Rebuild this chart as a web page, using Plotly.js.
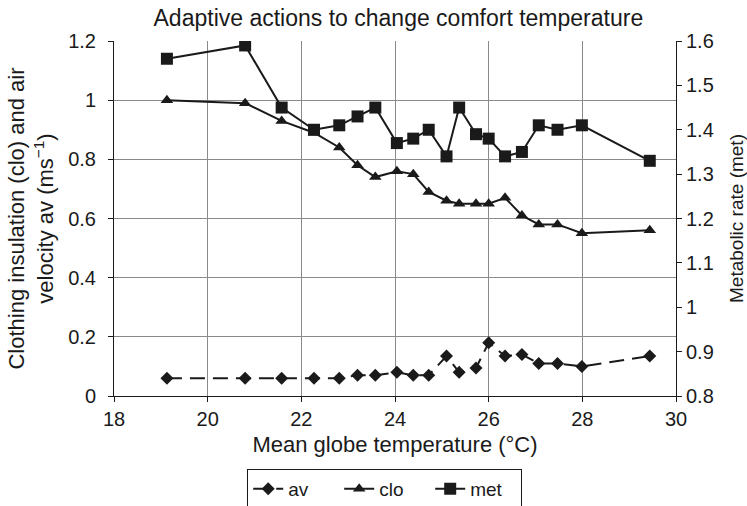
<!DOCTYPE html>
<html>
<head>
<meta charset="utf-8">
<script src="https://cdn.plot.ly/plotly-3.0.1.min.js"></script>
<style>
html,body{margin:0;padding:0;background:#fff;}
#chart{width:747px;height:506px;}
</style>
</head>
<body>
<div id="chart"></div>
<script>
// Mean globe temperature (°C)
var temp = [19.13, 20.8, 21.58, 22.27, 22.81, 23.2, 23.58, 24.04, 24.39, 24.72, 25.1, 25.37, 25.73, 26.0, 26.35, 26.71, 27.07, 27.47, 27.99, 29.44];
// air velocity (m/s)
var av = [0.06, 0.06, 0.06, 0.06, 0.06, 0.07, 0.07, 0.08, 0.07, 0.07, 0.135, 0.08, 0.095, 0.18, 0.135, 0.14, 0.11, 0.11, 0.10, 0.135];
// clothing insulation (clo)
var clo = [1.0, 0.99, 0.93, 0.89, 0.84, 0.78, 0.74, 0.76, 0.75, 0.69, 0.66, 0.65, 0.65, 0.65, 0.67, 0.61, 0.58, 0.58, 0.55, 0.56];
// metabolic rate (met)
var met = [1.56, 1.59, 1.45, 1.40, 1.41, 1.43, 1.45, 1.37, 1.38, 1.40, 1.34, 1.45, 1.39, 1.38, 1.34, 1.35, 1.41, 1.40, 1.41, 1.33];
var seriesNames = ['av', 'clo', 'met'];

var FONT = 'Liberation Sans, Arial, sans-serif';
var INK = '#1a1a1a';

var traces = [
  {x: temp, y: av, name: seriesNames[0], type: 'scatter', mode: 'lines+markers',
   line: {color: INK, width: 2, dash: '15px,8px'},
   marker: {symbol: 'diamond', size: 10, color: INK}},
  {x: temp, y: clo, name: seriesNames[1], type: 'scatter', mode: 'lines+markers',
   line: {color: INK, width: 2},
   marker: {symbol: 'triangle-up', size: 11, color: INK}},
  {x: temp, y: met, name: seriesNames[2], type: 'scatter', mode: 'lines+markers', yaxis: 'y2',
   line: {color: INK, width: 2},
   marker: {symbol: 'square', size: 12, color: INK}}
];

var layout = {
  width: 747, height: 506,
  paper_bgcolor: '#fff', plot_bgcolor: '#fff',
  margin: {l: 114, r: 71, t: 41, b: 110, autoexpand: false},
  font: {family: FONT, color: INK, size: 20},
  title: {text: 'Adaptive actions to change comfort temperature',
          font: {family: FONT, size: 23, color: INK},
          x: 0.506, xref: 'paper', xanchor: 'center',
          y: 0.964, yref: 'container', yanchor: 'middle'},
  xaxis: {range: [18, 30], dtick: 2, tick0: 18,
          showgrid: true, gridcolor: '#8a8a8a', gridwidth: 1,
          showline: true, linecolor: INK, linewidth: 1,
          ticks: 'outside', ticklen: 5, tickcolor: INK,
          zeroline: false,
          tickfont: {family: FONT, size: 20, color: INK},
          title: {text: 'Mean globe temperature (°C)', font: {family: FONT, size: 22, color: INK}, standoff: 7}},
  yaxis: {range: [0, 1.2], dtick: 0.2, tick0: 0,
          showgrid: true, gridcolor: '#8a8a8a', gridwidth: 1,
          showline: true, linecolor: INK, linewidth: 1,
          ticks: 'outside', ticklen: 5, tickcolor: INK,
          zeroline: false, ticklabelstandoff: 8,
          tickfont: {family: FONT, size: 20, color: INK},
          title: {text: 'Clothing insulation (clo) and air<br>velocity av (ms<sup>−1</sup>)',
                  font: {family: FONT, size: 22, color: INK}, standoff: 8}},
  yaxis2: {range: [0.8, 1.6], dtick: 0.1, tick0: 0.8, overlaying: 'y', side: 'right',
           showgrid: false, zeroline: false,
           showline: true, linecolor: INK, linewidth: 1,
           ticks: 'outside', ticklen: 5, tickcolor: INK,
           tickfont: {family: FONT, size: 20, color: INK},
           title: {text: 'Metabolic rate (met)', font: {family: FONT, size: 19, color: INK}, standoff: 16}},
  showlegend: true,
  legend: {orientation: 'h', x: 0.237, xanchor: 'left', xref: 'paper',
           y: -0.205, yanchor: 'top', yref: 'paper',
           bordercolor: INK, borderwidth: 1, bgcolor: '#fff',
           entrywidth: 46, entrywidthmode: 'pixels',
           tracegroupgap: 0, itemsizing: 'trace',
           font: {family: FONT, size: 19, color: INK}}
};

Plotly.newPlot('chart', traces, layout, {displayModeBar: false, staticPlot: true});
</script>
</body>
</html>
